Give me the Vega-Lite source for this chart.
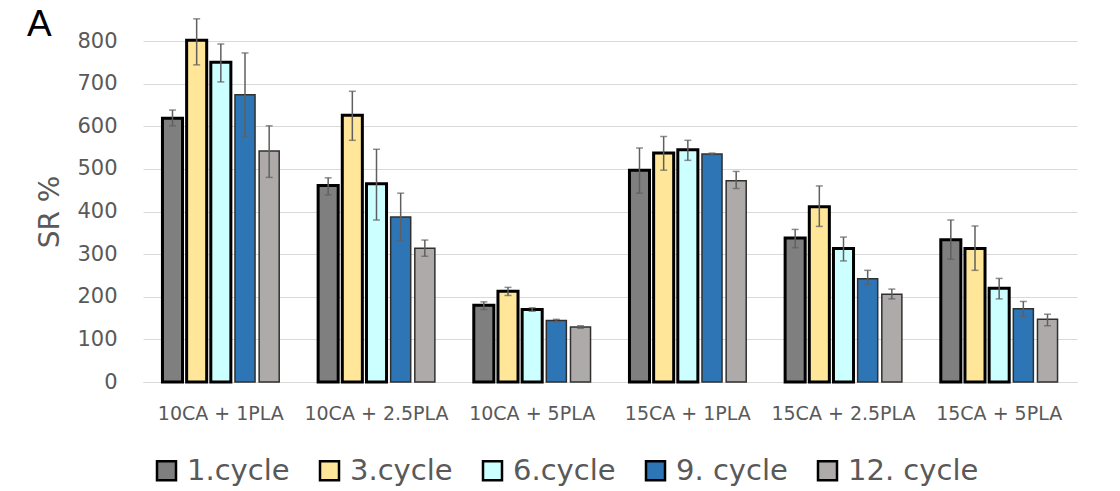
{
  "$schema": "https://vega.github.io/schema/vega-lite/v6.json",
  "autosize": {"type": "none"},
  "padding": {"left": 143, "top": 41, "right": 43, "bottom": 109},
  "width": 934,
  "height": 341,
  "background": "white",
  "title": {"text": "A", "anchor": "start", "frame": "group", "font": "Liberation Sans", "fontSize": 37, "fontWeight": "normal", "color": "black", "dx": -116, "dy": 26, "offset": 0},
  "config": {"view": {"stroke": null}, "font": "DejaVu Sans"},
  "data": {"values": [
    {"group": "10CA + 1PLA", "cycle": "1.cycle", "v": 619, "lo": 601, "hi": 638},
    {"group": "10CA + 1PLA", "cycle": "3.cycle", "v": 802, "lo": 744, "hi": 852},
    {"group": "10CA + 1PLA", "cycle": "6.cycle", "v": 750, "lo": 704, "hi": 793},
    {"group": "10CA + 1PLA", "cycle": "9. cycle", "v": 674, "lo": 576, "hi": 772},
    {"group": "10CA + 1PLA", "cycle": "12. cycle", "v": 542, "lo": 480, "hi": 601},
    {"group": "10CA + 2.5PLA", "cycle": "1.cycle", "v": 461, "lo": 439, "hi": 479},
    {"group": "10CA + 2.5PLA", "cycle": "3.cycle", "v": 626, "lo": 567, "hi": 682},
    {"group": "10CA + 2.5PLA", "cycle": "6.cycle", "v": 465, "lo": 380, "hi": 546},
    {"group": "10CA + 2.5PLA", "cycle": "9. cycle", "v": 387, "lo": 332, "hi": 443},
    {"group": "10CA + 2.5PLA", "cycle": "12. cycle", "v": 314, "lo": 295, "hi": 333},
    {"group": "10CA + 5PLA", "cycle": "1.cycle", "v": 180, "lo": 170, "hi": 188},
    {"group": "10CA + 5PLA", "cycle": "3.cycle", "v": 213, "lo": 203, "hi": 222},
    {"group": "10CA + 5PLA", "cycle": "6.cycle", "v": 170, "lo": 166, "hi": 174},
    {"group": "10CA + 5PLA", "cycle": "9. cycle", "v": 144, "lo": 141, "hi": 147},
    {"group": "10CA + 5PLA", "cycle": "12. cycle", "v": 129, "lo": 126, "hi": 132},
    {"group": "15CA + 1PLA", "cycle": "1.cycle", "v": 497, "lo": 443, "hi": 549},
    {"group": "15CA + 1PLA", "cycle": "3.cycle", "v": 537, "lo": 497, "hi": 576},
    {"group": "15CA + 1PLA", "cycle": "6.cycle", "v": 545, "lo": 520, "hi": 567},
    {"group": "15CA + 1PLA", "cycle": "9. cycle", "v": 535, "lo": 532, "hi": 537},
    {"group": "15CA + 1PLA", "cycle": "12. cycle", "v": 472, "lo": 454, "hi": 494},
    {"group": "15CA + 2.5PLA", "cycle": "1.cycle", "v": 338, "lo": 315, "hi": 358},
    {"group": "15CA + 2.5PLA", "cycle": "3.cycle", "v": 411, "lo": 365, "hi": 460},
    {"group": "15CA + 2.5PLA", "cycle": "6.cycle", "v": 313, "lo": 284, "hi": 340},
    {"group": "15CA + 2.5PLA", "cycle": "9. cycle", "v": 242, "lo": 229, "hi": 262},
    {"group": "15CA + 2.5PLA", "cycle": "12. cycle", "v": 206, "lo": 195, "hi": 218},
    {"group": "15CA + 5PLA", "cycle": "1.cycle", "v": 334, "lo": 288, "hi": 380},
    {"group": "15CA + 5PLA", "cycle": "3.cycle", "v": 313, "lo": 262, "hi": 366},
    {"group": "15CA + 5PLA", "cycle": "6.cycle", "v": 220, "lo": 195, "hi": 243},
    {"group": "15CA + 5PLA", "cycle": "9. cycle", "v": 172, "lo": 154, "hi": 189},
    {"group": "15CA + 5PLA", "cycle": "12. cycle", "v": 147, "lo": 132, "hi": 159}
  ]},
  "encoding": {
    "x": {"field": "group", "type": "nominal", "sort": null,
      "scale": {"paddingInner": 0.25, "paddingOuter": 0.125},
      "axis": {"title": null, "labelAngle": 0, "ticks": false, "domain": true, "domainColor": "#D9D9D9", "labelFont": "DejaVu Sans", "labelFontSize": 19, "labelColor": "#595959", "labelPadding": 22}},
    "xOffset": {"field": "cycle", "type": "nominal", "sort": ["1.cycle", "3.cycle", "6.cycle", "9. cycle", "12. cycle"],
      "scale": {"paddingInner": 0.17, "paddingOuter": 0}}
  },
  "layer": [
    {
      "mark": {"type": "bar", "clip": false},
      "encoding": {
        "y": {"field": "v", "type": "quantitative",
          "scale": {"domain": [0, 800], "nice": false},
          "axis": {"title": "SR %", "titleFont": "DejaVu Sans", "titleFontSize": 28, "titleFontWeight": "normal", "titleColor": "#595959", "titlePadding": 12,
            "values": [0, 100, 200, 300, 400, 500, 600, 700, 800], "domain": false, "ticks": false, "labelPadding": 26, "labelFont": "DejaVu Sans", "labelFontSize": 21, "labelColor": "#595959", "gridColor": "#D9D9D9", "gridWidth": 1}},
        "color": {"field": "cycle", "type": "nominal", "sort": ["1.cycle", "3.cycle", "6.cycle", "9. cycle", "12. cycle"],
          "scale": {"domain": ["1.cycle", "3.cycle", "6.cycle", "9. cycle", "12. cycle"], "range": ["#7F7F7F", "#FFE699", "#CCFFFF", "#2E75B6", "#AEAAAA"]},
          "legend": {"title": null, "orient": "none", "direction": "horizontal", "legendX": 9, "legendY": 415,
            "symbolType": "square", "symbolSize": 361, "symbolOpacity": 1, "symbolStrokeColor": "black", "symbolStrokeWidth": 2.5,
            "labelFont": "DejaVu Sans", "labelFontSize": 29, "labelColor": "#595959", "labelOffset": 6, "columnPadding": 25, "labelLimit": 300}},
        "stroke": {"condition": {"test": "datum.cycle === '9. cycle' || datum.cycle === '12. cycle'", "value": "#303030"}, "value": "black"},
        "strokeWidth": {"condition": {"test": "datum.cycle === '9. cycle' || datum.cycle === '12. cycle'", "value": 1.5}, "value": 3}
      }
    },
    {
      "mark": {"type": "rule", "color": "#5F5F5F", "strokeWidth": 1.5, "clip": false},
      "encoding": {"y": {"field": "lo", "type": "quantitative"}, "y2": {"field": "hi"}}
    },
    {
      "mark": {"type": "tick", "color": "#5F5F5F", "thickness": 1.5, "size": 7, "clip": false},
      "encoding": {"y": {"field": "lo", "type": "quantitative"}}
    },
    {
      "mark": {"type": "tick", "color": "#5F5F5F", "thickness": 1.5, "size": 7, "clip": false},
      "encoding": {"y": {"field": "hi", "type": "quantitative"}}
    }
  ]
}
